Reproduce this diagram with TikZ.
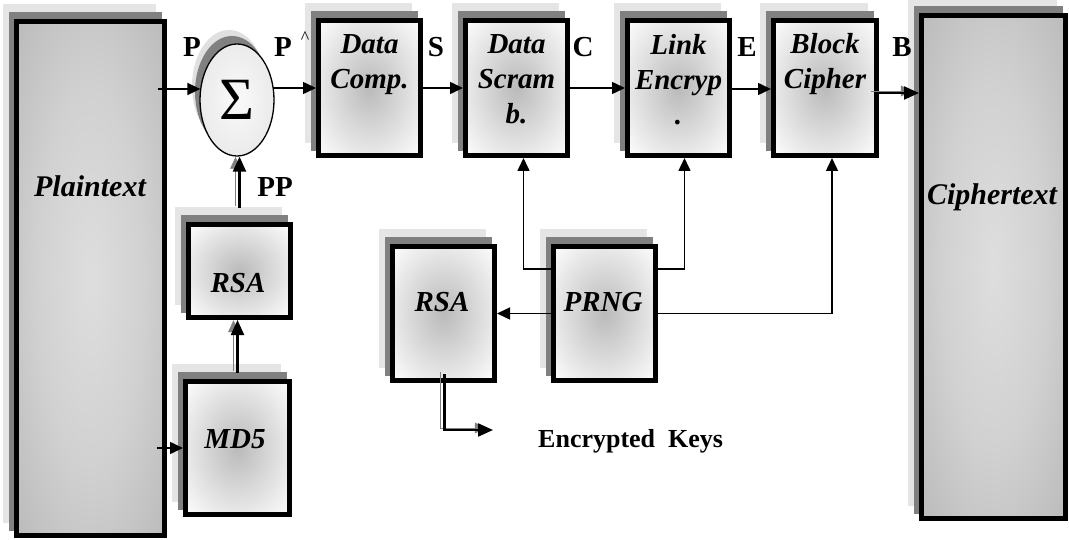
\documentclass[tikz,border=0pt]{standalone}
\usepackage{fontspec}
\setmainfont{Liberation Serif}
\usetikzlibrary{arrows.meta,shapes.geometric,calc}
\pgfdeclarelayer{background}
\pgfsetlayers{background,main}

% fills: processing blocks (dark centre, white rim), data stores, summing node
\pgfdeclareradialshading{blockfill}{\pgfpoint{0bp}{0bp}}{color(0bp)=(black!27); color(8bp)=(black!21); color(36bp)=(white); color(50bp)=(white)}
\pgfdeclareradialshading{storefill}{\pgfpoint{0bp}{0bp}}{color(0bp)=(black!13); color(18bp)=(black!18); color(42bp)=(black!30); color(50bp)=(black!30)}
\pgfdeclareradialshading{sumfill}{\pgfpoint{0bp}{0bp}}{color(0bp)=(black!2); color(25bp)=(black!8); color(50bp)=(black!20)}

\tikzset{
  blk/.style={draw, line width=5pt, shade, shading=blockfill, inner sep=0pt},
  store/.style={draw, line width=5pt, shade, shading=storefill, inner sep=0pt},
  boxtxt/.style={font=\fontsize{29}{35}\selectfont\bfseries\itshape, align=center, anchor=north, inner sep=0pt},
  bigtxt/.style={font=\fontsize{30}{30}\selectfont\bfseries\itshape, anchor=base, inner sep=0pt},
  sig/.style={font=\fontsize{29}{29}\selectfont\bfseries, anchor=base, inner sep=0pt},
  arr/.style={line width=1.5pt, -{Triangle[length=13pt,width=12pt]}},
  dbl/.style={line width=2.2pt, -{Triangle[length=15pt,width=13pt]},
    preaction={draw=black!50, transform canvas={shift={(-4pt,2pt)}}}},
}

% stacked drop shadow behind a rectangular node
\newcommand\stackshadow[1]{%
  \begin{pgfonlayer}{background}
    \fill[black!10] ([shift={(-11,-15)}]#1.north west) rectangle ([shift={(-11,-15)}]#1.south east);
    \fill[black!50] ([shift={(-5,-7)}]#1.north west) rectangle ([shift={(-5,-7)}]#1.south east);
  \end{pgfonlayer}}

\begin{document}
\begin{tikzpicture}[x=1pt,y=-1pt]
\useasboundingbox (0,0) rectangle (1069,540);

% data stores
\node[store, minimum width=148pt, minimum height=514pt] (plain) at (90.5,278.5) {};
\node[store, minimum width=144pt, minimum height=503pt] (cipher) at (993.5,267) {};
\stackshadow{plain}
\stackshadow{cipher}

% processing blocks
\node[blk, minimum width=102pt, minimum height=135pt] (comp)  at (369.5,88) {};
\node[blk, minimum width=102pt, minimum height=135pt] (scram) at (516.5,88) {};
\node[blk, minimum width=102pt, minimum height=135pt] (link)  at (678.5,88) {};
\node[blk, minimum width=103pt, minimum height=135pt] (block) at (825,88) {};
\node[blk, minimum width=102pt, minimum height=93pt]  (rsa1)  at (239.5,271) {};
\node[blk, minimum width=104pt, minimum height=133pt] (md5)   at (237.5,448) {};
\node[blk, minimum width=102pt, minimum height=134pt] (rsa2)  at (443.5,313.5) {};
\node[blk, minimum width=102pt, minimum height=134pt] (prng)  at (604.5,313.5) {};
\foreach \n in {comp,scram,link,block,rsa1,md5,rsa2,prng} {\stackshadow{\n}}

% summing node
\begin{pgfonlayer}{background}
  \fill[black!12] (229,86) ellipse [x radius=37pt, y radius=56pt];
  \fill[black!50] (232,92) ellipse [x radius=37pt, y radius=56pt];
\end{pgfonlayer}
\node[draw, ellipse, line width=1.3pt, minimum width=74pt, minimum height=112pt, inner sep=0pt,
      shade, shading=sumfill] (sum) at (237,100) {\fontsize{60}{60}\selectfont Σ};

% texts
\node[bigtxt] (tplain)  at (90,197)  {Plaintext};
\node[bigtxt] (tcipher) at (992,205) {Ciphertext};
\node[boxtxt] (tcomp)  at (369.5,34) {Data\\Comp.};
\node[boxtxt] (tscram) at (516.5,34) {Data\\Scram\\b.};
\node[boxtxt] (tlink)  at (678.5,34) {Link\\Encryp\\.};
\node[boxtxt] (tblock) at (825,33)   {Block\\Cipher};
\node[bigtxt, font=\fontsize{29}{29}\selectfont\bfseries\itshape] (trsa1) at (238,293) {RSA};
\node[bigtxt, font=\fontsize{29}{29}\selectfont\bfseries\itshape] (tmd5)  at (235,448) {MD5};
\node[bigtxt, font=\fontsize{29}{29}\selectfont\bfseries\itshape] (trsa2) at (442,312) {RSA};
\node[bigtxt, font=\fontsize{29}{29}\selectfont\bfseries\itshape] (tprng) at (603,312) {PRNG};

% signal labels
\node[sig] (lp)  at (192,57) {P};
\node[sig] (lph) at (283,57) {P};
\node[anchor=base, inner sep=0pt, font=\fontsize{18}{18}\selectfont] (hat) at (305,44) {\textasciicircum};
\node[sig] (ls)  at (436,57) {S};
\node[sig] (lc)  at (583,57) {C};
\node[sig] (le)  at (747,57) {E};
\node[sig] (lb)  at (902,57) {B};
\node[sig] (lpp) at (275,197) {PP};
\node[anchor=base west, inner sep=0pt, font=\fontsize{26}{26}\selectfont\bfseries] (keys) at (538,447) {Encrypted\hspace{0.5em}Keys};

% helper levels
\coordinate (r88) at (0,88);
\coordinate (r89) at (0,89);
\coordinate (r93) at (0,93);
\coordinate (r269) at (0,269);
\coordinate (kend) at (493,430);

% main chain
\draw[arr] ($(plain.east |- r89)+(-9,0)$) -- ($(sum.west |- r89)+(1,0)$);
\draw[arr] ($(sum.east |- r88)+(-2,0)$) -- (comp.west |- r88);
\draw[arr] (comp.east) -- (scram.west);
\draw[arr] (scram.east) -- (link.west);
\draw[arr] (link.east |- r89) -- (block.west |- r89);
\draw[dbl] ($(block.east |- r93)+(-4,0)$) -- (cipher.west |- r93);

% hash path
\draw[arr] ($(plain.east |- md5.west)+(-10,0)$) -- (md5.west);
\draw[dbl] ($(md5.north)+(0,-6)$) -- (rsa1.south -| md5.north);
\draw[dbl] ($(rsa1.north)+(0,-14)$) -- (sum.south -| rsa1.north);

% key stream
\draw[arr] (prng.west |- r269) -| ($(scram.south)+(7,0)$);
\draw[arr] (prng.east |- r269) -| ($(link.south)+(6,0)$);
\draw[arr] (prng.west) -- (rsa2.east);
\draw[arr] (prng.east) -| ($(block.south)+(7,0)$);
\draw[dbl] ($(rsa2.south)+(1,-9)$) |- (kend);
\end{tikzpicture}
\end{document}
